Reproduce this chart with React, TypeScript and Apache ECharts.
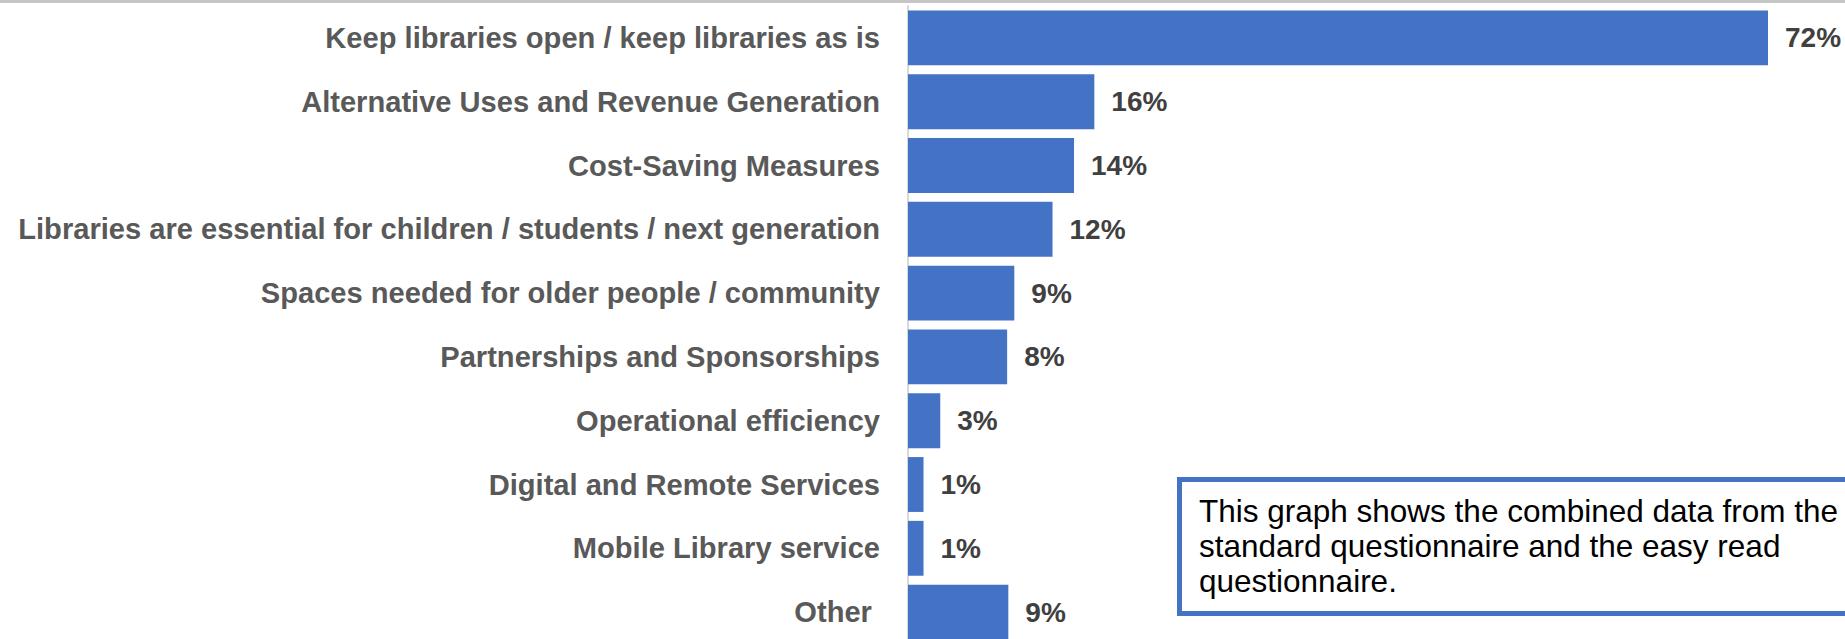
import React, { useEffect, useRef } from "react";
import * as echarts from "echarts";

const categories = [
  "Keep libraries open / keep libraries as is",
  "Alternative Uses and Revenue Generation",
  "Cost-Saving Measures",
  "Libraries are essential for children / students / next generation",
  "Spaces needed for older people / community",
  "Partnerships and Sponsorships",
  "Operational efficiency",
  "Digital and Remote Services",
  "Mobile Library service",
  "Other ",
];
const barValues = [72, 15.6, 13.9, 12.1, 8.9, 8.3, 2.7, 1.3, 1.3, 8.4];
const labelPercents = [72, 16, 14, 12, 9, 8, 3, 1, 1, 9];
const noteLines = [
  "This graph shows the combined data from the",
  "standard questionnaire and the easy read",
  "questionnaire.",
];

const FONT = '"Liberation Sans", Arial, Helvetica, sans-serif';

export default function App() {
  const ref = useRef<HTMLDivElement>(null);
  useEffect(() => {
    if (!ref.current) return;
    const chart = echarts.init(ref.current, undefined, { renderer: "svg" });
    chart.setOption({
      animation: false,
      backgroundColor: "#ffffff",
      grid: { left: 908, top: 6, width: 860, height: 638 },
      xAxis: {
        type: "value",
        min: 0,
        max: 72,
        show: false,
      },
      yAxis: {
        type: "category",
        inverse: true,
        data: categories,
        axisLine: { show: true, lineStyle: { color: "#d9d9d9", width: 2 } },
        axisTick: { show: false },
        axisLabel: {
          fontFamily: FONT,
          fontSize: 29.1,
          fontWeight: "bold",
          color: "#595959",
          margin: 28,
        },
      },
      series: [
        {
          type: "bar",
          data: barValues,
          barCategoryGap: "14%",
          itemStyle: { color: "#4472c4" },
          label: {
            show: true,
            position: "right",
            distance: 17,
            fontFamily: FONT,
            fontSize: 28,
            fontWeight: "bold",
            color: "#404040",
            formatter: (p: any) => labelPercents[p.dataIndex] + "%",
          },
        },
      ],
      graphic: [
        {
          type: "rect",
          shape: { x: 0, y: 0, width: 1845, height: 3 },
          style: { fill: "#c6c6c6" },
        },
        {
          type: "rect",
          shape: { x: 1179.5, y: 479.5, width: 700, height: 134 },
          style: { fill: "#ffffff", stroke: "#4472c4", lineWidth: 5 },
        },
        {
          type: "text",
          x: 1199,
          y: 493,
          style: {
            text: noteLines.join("\n"),
            font: "31.5px " + FONT,
            fill: "#000000",
            lineHeight: 35,
            verticalAlign: "top",
            align: "left",
          },
        },
      ],
    });
    return () => chart.dispose();
  }, []);
  return (
    <div
      style={{
        position: "fixed",
        left: 0,
        top: 0,
        width: 1845,
        height: 639,
        overflow: "hidden",
        background: "#ffffff",
      }}
    >
      <div ref={ref} style={{ width: 1845, height: 660 }} />
    </div>
  );
}
